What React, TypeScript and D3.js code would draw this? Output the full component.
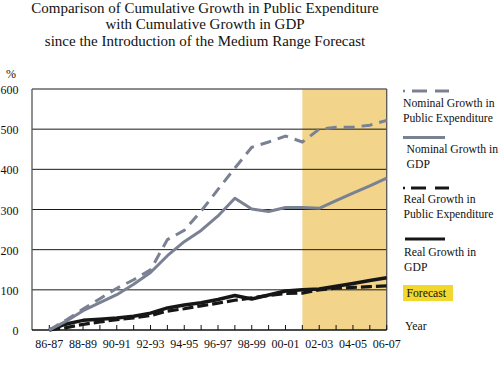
import React from "react";
import * as d3 from "d3";

const years = ["86-87","87-88","88-89","89-90","90-91","91-92","92-93","93-94","94-95","95-96","96-97","97-98","98-99","99-00","00-01","01-02","02-03","03-04","04-05","05-06","06-07"];
const labelYears = ["86-87","88-89","90-91","92-93","94-95","96-97","98-99","00-01","02-03","04-05","06-07"];
const forecastStart = "01-02";
const yTicks = [0, 100, 200, 300, 400, 500, 600];

const nominalExpenditure = [0, 25, 52, 78, 104, 125, 150, 225, 248, 296, 350, 403, 455, 468, 483, 468, 500, 505, 505, 510, 522];
const nominalGDP = [0, 22, 48, 68, 88, 114, 143, 185, 220, 248, 284, 328, 301, 295, 305, 305, 303, 322, 341, 359, 378];
const realExpenditure = [0, 6, 14, 20, 26, 30, 36, 47, 53, 60, 67, 74, 80, 86, 91, 92, 100, 104, 106, 108, 110];
const realGDP = [0, 15, 24, 27, 30, 34, 42, 55, 62, 68, 76, 86, 77, 87, 97, 100, 102, 109, 116, 123, 130];

const titleLines = [
  "Comparison of Cumulative Growth in Public Expenditure",
  "with Cumulative Growth in GDP",
  "since the Introduction of the Medium Range Forecast",
];

const GRAY = "#7a8193";
const BLACK = "#161616";
const FONT = "'Liberation Serif', 'Times New Roman', serif";

export default function App() {
  const left = 32, right = 386.7, top = 89, bottom = 330;
  const x = d3.scalePoint<string>().domain(years).range([49.3, 386.7]);
  const y = d3.scaleLinear().domain([0, 600]).range([bottom, top]);
  const line = d3.line<number>().x((_, i) => x(years[i]) as number).y(d => y(d));

  const bandX = x(forecastStart) as number;

  return (
    <svg width={501} height={377} style={{ position: "absolute", left: 0, top: 0, background: "#fff", fontFamily: FONT }}>
      <g style={{ fontFamily: FONT }}>
        {titleLines.map((t, i) => (
          <text key={i} x={205} y={12.5 + i * 16.8} textAnchor="middle" fontSize={15} fill="#111">{t}</text>
        ))}
        <text x={6} y={78} fontSize={12} fill="#111">%</text>
      </g>

      <rect x={bandX} y={top} width={right - bandX} height={bottom - top} fill="#f2d58b" />

      {yTicks.filter(v => v > 0 && v < 600).map(v => (
        <line key={v} x1={left} x2={right} y1={y(v)} y2={y(v)} stroke="#1a1a1a" strokeWidth={1} />
      ))}
      <line x1={left} x2={right} y1={top} y2={top} stroke="#666" strokeWidth={1.3} />
      <line x1={left} x2={left} y1={top} y2={bottom} stroke="#555" strokeWidth={1.3} />
      <line x1={right} x2={right} y1={top} y2={bottom} stroke="#555" strokeWidth={1.3} />
      <line x1={left} x2={right} y1={bottom} y2={bottom} stroke="#111" strokeWidth={1.5} />

      <g style={{ fontFamily: FONT }}>
        {yTicks.map(v => (
          <text key={v} x={18.5} y={y(v) + 5} textAnchor="end" fontSize={12} fill="#111">{v}</text>
        ))}
        {labelYears.map(yr => (
          <text key={yr} x={x(yr)} y={348} textAnchor="middle" fontSize={12} fill="#111">{yr}</text>
        ))}
      </g>

      {years.map(yr => (
        <line key={yr} x1={x(yr)} x2={x(yr)} y1={bottom} y2={bottom - 5} stroke="#111" strokeWidth={1} />
      ))}

      <path d={line(realGDP) || ""} fill="none" stroke={BLACK} strokeWidth={3.5} strokeLinejoin="round" />
      <path d={line(realExpenditure) || ""} fill="none" stroke={BLACK} strokeWidth={3.2} strokeDasharray="11,4" />
      <path d={line(nominalGDP) || ""} fill="none" stroke={GRAY} strokeWidth={3} strokeLinejoin="round" />
      <path d={line(nominalExpenditure) || ""} fill="none" stroke={GRAY} strokeWidth={3} strokeDasharray="11,7" />

      {/* Legend */}
      <g fontSize={11.7} fill="#111" style={{ fontFamily: FONT }}>
        <line x1={403} x2={405} y1={91} y2={91} stroke={GRAY} strokeWidth={2.5} />
        <line x1={412} x2={427} y1={91} y2={91} stroke={GRAY} strokeWidth={3} />
        <line x1={435} x2={449} y1={91} y2={91} stroke={GRAY} strokeWidth={3} />
        <text x={403} y={107}>Nominal Growth in</text>
        <text x={403} y={122}>Public Expenditure</text>

        <line x1={403} x2={445} y1={137.5} y2={137.5} stroke={GRAY} strokeWidth={3} />
        <text x={406.5} y={153}>Nominal Growth in</text>
        <text x={406.5} y={168}>GDP</text>

        <line x1={403} x2={405} y1={188} y2={188} stroke={BLACK} strokeWidth={2.5} />
        <line x1={411} x2={426} y1={188} y2={188} stroke={BLACK} strokeWidth={3} />
        <line x1={435} x2={449} y1={188} y2={188} stroke={BLACK} strokeWidth={3} />
        <text x={403.5} y={203}>Real Growth in</text>
        <text x={403.5} y={218}>Public Expenditure</text>

        <line x1={405} x2={445} y1={239} y2={239} stroke={BLACK} strokeWidth={3.2} />
        <text x={404} y={256}>Real Growth in</text>
        <text x={404} y={271}>GDP</text>

        <rect x={403} y={285} width={50} height={16} fill="#f2d82e" />
        <text x={406.5} y={297}>Forecast</text>

        <text x={405} y={330}>Year</text>
      </g>
    </svg>
  );
}
